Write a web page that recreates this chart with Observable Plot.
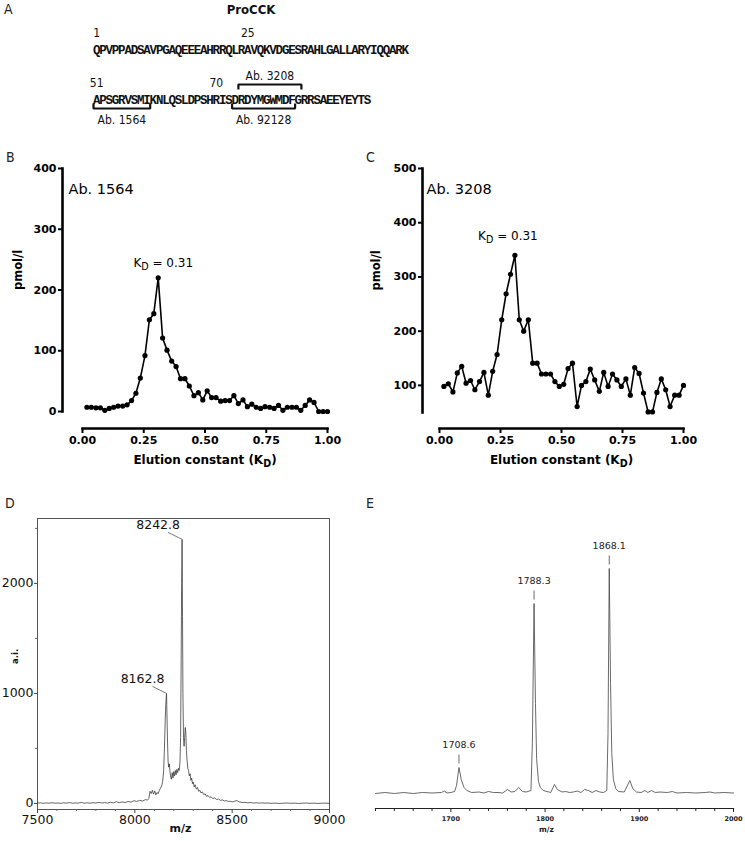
<!DOCTYPE html>
<html>
<head>
<meta charset="utf-8">
<script src="https://cdn.jsdelivr.net/npm/d3@7"></script>
<script src="https://cdn.jsdelivr.net/npm/@observablehq/plot@0.6"></script>
<style>
  html, body { margin: 0; padding: 0; background: #fff; }
  #fig { position: relative; width: 745px; height: 841px; overflow: hidden; background: #fff; }
  .panel { position: absolute; }
  .panel svg { overflow: visible; }
  .letter { position: absolute; font: 14px "Liberation Sans Narrow", "DejaVu Sans Condensed", "Liberation Sans", sans-serif; color: #222; line-height: 1; }
</style>
</head>
<body>
<div id="fig"></div>
<script>
// ---------------- Panel A data ----------------
const seqLine1 = "QPVPPADSAVPGAQEEEAHRRQLRAVQKVDGESRAHLGALLARYIQQARK";
const seqLine2 = "APSGRVSMIKNLQSLDPSHRISDRDYMGWMDFGRRSAEEYEYTS";
const residueNumbers = [1, 25, 51, 70];
const antibodyNames = ["Ab. 3208", "Ab. 1564", "Ab. 92128"];
const antibodyFrom = [74, 51, 73];
const antibodyTo = [83, 59, 82];
const antibodySide = ["above", "below", "below"];

// ---------------- Panels B & C data ----------------
const kd = [0.018, 0.036, 0.055, 0.073, 0.091, 0.109, 0.127, 0.145, 0.164, 0.182,
            0.2, 0.218, 0.236, 0.255, 0.273, 0.291, 0.309, 0.327, 0.345, 0.364,
            0.382, 0.4, 0.418, 0.436, 0.455, 0.473, 0.491, 0.509, 0.527, 0.545,
            0.564, 0.582, 0.6, 0.618, 0.636, 0.655, 0.673, 0.691, 0.709, 0.727,
            0.745, 0.764, 0.782, 0.8, 0.818, 0.836, 0.855, 0.873, 0.891, 0.909,
            0.927, 0.945, 0.964, 0.982, 1.0];
const pmolB = [7, 7, 6, 6, 2, 5, 7, 9, 9, 11,
               18, 30, 55, 92, 151, 161, 220, 121, 101, 83,
               74, 54, 54, 42, 26, 31, 19, 34, 23, 23,
               17, 18, 18, 26, 13, 19, 8, 12, 7, 5,
               8, 7, 5, 10, 2, 7, 7, 7, 2, 10,
               19, 15, 0, 0, 0];
const pmolC = [98, 103, 88, 123, 135, 104, 109, 92, 107, 124,
               82, 126, 157, 221, 269, 305, 340, 221, 200, 221,
               141, 141, 121, 121, 121, 107, 98, 102, 131, 141,
               61, 100, 107, 130, 110, 89, 124, 98, 121, 110,
               98, 112, 82, 133, 122, 86, 51, 51, 87, 112,
               92, 61, 82, 82, 100];
const kdTicks = [0, 0.25, 0.5, 0.75, 1];
const pmolTicksB = [0, 100, 200, 300, 400];
const pmolTicksC = [100, 200, 300, 400, 500];
const antibodyB = "Ab. 1564";
const antibodyC = "Ab. 3208";

// ---------------- Panel D data (MALDI spectrum) ----------------
const mzD = [7500, 7515, 7530, 7545, 7560, 7575, 7590, 7605, 7620, 7635, 7650, 7665, 7680, 7695, 7710, 7725,
  7740, 7755, 7770, 7785, 7800, 7815, 7830, 7845, 7860, 7875, 7890, 7905, 7920, 7935, 7950, 7965, 7980, 7995,
  8010, 8025, 8040, 8055, 8065, 8072, 8078, 8084, 8090, 8096, 8102, 8108, 8114, 8120, 8126, 8132, 8138, 8143,
  8148, 8152, 8156, 8159, 8162.8, 8165, 8168, 8171, 8174, 8177, 8180, 8184, 8188, 8192, 8196, 8200, 8204, 8208,
  8212, 8216, 8220, 8224, 8228, 8232, 8235, 8238, 8240.5, 8242.8, 8245, 8247, 8250, 8253, 8256, 8259, 8262,
  8265, 8268, 8272, 8276, 8280, 8284, 8288, 8292, 8296, 8300, 8305, 8310, 8316, 8322, 8328, 8334, 8340, 8347,
  8354, 8361, 8368, 8376, 8384, 8392, 8400, 8410, 8420, 8430, 8440, 8450, 8460, 8470, 8480, 8490, 8500, 8510,
  8520, 8528, 8536, 8545, 8555, 8565, 8580, 8595, 8610, 8625, 8640, 8655, 8670, 8685, 8700, 8720, 8740, 8760,
  8780, 8800, 8820, 8840, 8860, 8880, 8900, 8920, 8940, 8960, 8980, 9000];
const aiD = [3, 6, 1, 5, 2, 7, 2, 4, 1, 6, 3, 8, 2, 5, 3, 9,
  2, 6, 2, 7, 4, 10, 4, 8, 3, 11, 5, 16, 7, 14, 8, 18, 12, 25,
  18, 28, 22, 35, 30, 45, 110, 90, 120, 85, 115, 78, 100, 88, 120, 140, 160, 200,
  300, 500, 750, 900, 1000, 820, 550, 380, 330, 360, 300, 240, 220, 280, 230, 290, 250, 300,
  260, 310, 280, 320, 300, 380, 600, 1300, 2000, 2400, 1700, 1000, 600, 520, 600, 690, 640,
  480, 400, 320, 300, 250, 270, 210, 230, 180, 195, 150, 170, 130, 145, 110, 120, 95, 105,
  80, 88, 65, 72, 55, 60, 45, 50, 36, 40, 28, 32, 22, 26, 18, 20, 14, 18,
  26, 22, 14, 12, 8, 10, 6, 8, 4, 6, 3, 5, 2, 4, 1, 3, 0, 2,
  4, 1, 3, 0, 2, 4, 1, 3, 0, 2, 3, 1];
const labeledMzD = [8162.8, 8242.8];
const ticksXD = [7500, 8000, 8500, 9000];
const minorTicksXD = [7600, 7700, 7800, 7900, 8100, 8200, 8300, 8400, 8600, 8700, 8800, 8900];
const ticksYD = [0, 1000, 2000];
const minorTicksYD = [500, 1500, 2500];

// ---------------- Panel E data (MALDI spectrum, arbitrary intensity) ----------------
const mzE = [1620, 1630, 1640, 1650, 1660, 1670, 1680, 1690, 1693, 1696, 1700, 1704, 1706, 1708.6, 1711, 1714,
  1717, 1722, 1730, 1735, 1740, 1745, 1750, 1755, 1760, 1764, 1768, 1772, 1776, 1780, 1785, 1786.5, 1788.3,
  1789.8, 1791, 1793, 1795, 1798, 1802, 1806, 1810, 1813, 1818, 1822, 1826, 1830, 1834, 1838, 1842, 1846,
  1850, 1854, 1858, 1862, 1865.5, 1866.8, 1868.1, 1869.5, 1870.8, 1872.5, 1875, 1878, 1884, 1890, 1893,
  1897, 1902, 1906, 1909, 1913, 1917, 1922, 1930, 1935, 1940, 1950, 1960, 1970, 1975, 1980, 1990, 2000];
const intensityE = [0, 1, 0, 1, 0, 1, 0.5, 1, 2.5, 0.5, 1, 2, 8, 26, 14, 6,
  3, 1, 1.5, 0.5, 2, 1, 1, 0.5, 4, 1.5, 2, 6, 2, 1.5, 3, 50, 190,
  90, 35, 12, 6, 3, 2, 1, 9, 4, 1.5, 2, 1, 1.5, 2.5, 1, 4, 3,
  1, 3, 1.5, 1, 3, 60, 225, 110, 40, 14, 5, 2, 1.5, 13, 5,
  1.5, 1, 3, 1, 3, 1, 1.5, 1, 2, 0.5, 1, 0.5, 1, 1.5, 0.5, 1, 0.5];
const labeledMzE = [1708.6, 1788.3, 1868.1];
const ticksXE = [1700, 1800, 1900, 2000];
const minorTicksXE = [1620, 1640, 1660, 1680, 1720, 1740, 1760, 1780, 1820, 1840, 1860, 1880, 1920, 1940, 1960, 1980];

// ---------------- helpers ----------------
const fig = document.getElementById("fig");
function place(node, left, top) {
  const d = document.createElement("div");
  d.className = "panel";
  d.style.left = left + "px";
  d.style.top = top + "px";
  d.append(node);
  fig.append(d);
}
function letter(t, left, top) {
  const d = document.createElement("div");
  d.className = "letter";
  d.textContent = t;
  d.style.left = left + "px";
  d.style.top = top + "px";
  fig.append(d);
}
function subscriptD(root) {
  const NS = "http://www.w3.org/2000/svg";
  root.querySelectorAll("text").forEach((t) => {
    const s = t.textContent;
    const i = s.indexOf("K_D");
    if (i < 0 || t.children.length) return;
    t.textContent = "";
    const a = document.createElementNS(NS, "tspan");
    a.textContent = s.slice(0, i + 1);
    const b = document.createElementNS(NS, "tspan");
    b.textContent = "D";
    b.setAttribute("dy", "3");
    b.setAttribute("font-size", "0.8em");
    const c = document.createElementNS(NS, "tspan");
    c.textContent = s.slice(i + 3);
    c.setAttribute("dy", "-3");
    t.append(a, b, c);
  });
}
const SANS = "'DejaVu Sans', 'Liberation Sans', sans-serif";
const NARROW = "'Liberation Sans Narrow', 'DejaVu Sans Condensed', 'Liberation Sans', sans-serif";

// ---------------- Panel A ----------------
const residues = [];
[seqLine1, seqLine2].forEach((s, r) => Array.from(s).forEach((c, i) => residues.push({c, i, row: r + 1})));
const residueIndex = (n) => (n - 1) % 50;
const residueRow = (n) => (n <= 50 ? 1 : 2);
const numberLabels = residueNumbers.map((n) => ({n, i: residueIndex(n), row: residueRow(n)}));
const brackets = antibodyNames.map((name, k) => ({
  name,
  x1: residueIndex(antibodyFrom[k]),
  x2: residueIndex(antibodyTo[k]) + 1,
  row: residueRow(antibodyFrom[k]),
  side: antibodySide[k]
}));
// vertical layout of brackets, in sequence-row units
const bracketLayout = {above: {bar: -0.3, tip: -0.2, label: -0.46}, below: {bar: 0.18, tip: 0.08, label: 0.41}};
const bracketPath = brackets.flatMap((b) => {
  const L = bracketLayout[b.side];
  return [
    {name: b.name, x: b.x1, y: b.row + L.tip},
    {name: b.name, x: b.x1, y: b.row + L.bar},
    {name: b.name, x: b.x2, y: b.row + L.bar},
    {name: b.name, x: b.x2, y: b.row + L.tip}
  ];
});
const plotA = Plot.plot({
  width: 745, height: 135, margin: 0,
  style: {background: "transparent", color: "#111"},
  x: {domain: [0, 50], range: [93, 408], axis: null},
  y: {domain: [1, 2], range: [49, 99], axis: null},
  marks: [
    Plot.text([{t: "ProCCK", x: seqLine1.length / 2, row: 1}], {x: "x", y: "row", text: "t", dy: -40, fontFamily: NARROW, fontWeight: "bold", fontSize: 13}),
    Plot.text(residues, {x: (d) => d.i + 0.5, y: "row", text: "c", fontFamily: "'Liberation Mono', 'DejaVu Sans Mono', monospace", fontWeight: "bold", fontSize: 12.5}),
    Plot.text(numberLabels, {x: (d) => d.i + 0.5, y: "row", text: (d) => String(d.n), dy: -16, fontFamily: NARROW, fontSize: 12}),
    Plot.line(bracketPath, {x: "x", y: "y", z: "name", stroke: "#111", strokeWidth: 2.2, strokeLinejoin: "miter", strokeLinecap: "butt"}),
    Plot.text(brackets, {x: (b) => (b.x1 + b.x2) / 2, y: (b) => b.row + bracketLayout[b.side].label, text: "name", fontFamily: NARROW, fontSize: 12})
  ]
});
place(plotA, 0, 0);
letter("A", 4, 2);

// ---------------- Panels B & C ----------------
function elutionPlot({values, yDomain, yTicks, antibody, width, marginLeft, marginRight, insetLeft, insetBottom, yLabelDx, abDx, kdDx, kdDy}) {
  const rows = kd.map((k, i) => ({kd: k, pmol: values[i]}));
  const peak = d3.greatest(rows, (d) => d.pmol);
  const peakLabel = [{...peak, label: `K_D = ${peak.kd.toFixed(2)}`}];
  return Plot.plot({
    width, height: 320, marginLeft, marginRight, marginTop: 18, marginBottom: 42,
    style: {background: "transparent", color: "#000", fontFamily: SANS, fontSize: "11px"},
    x: {domain: [0, 1], insetLeft, label: null},
    y: {domain: yDomain, insetBottom, label: null},
    marks: [
      Plot.frame({anchor: "left", insetBottom, strokeWidth: 2.6}),
      Plot.frame({anchor: "bottom", insetLeft, strokeWidth: 2.6}),
      Plot.axisX({ticks: kdTicks, tickFormat: d3.format(".2f"), tickSize: 5, tickPadding: 3, strokeWidth: 2, fontWeight: "bold", fontSize: 11, label: null}),
      Plot.axisY({ticks: yTicks, tickSize: 4, tickPadding: 2, strokeWidth: 2, fontWeight: "bold", fontSize: 11, label: null}),
      Plot.line(rows, {x: "kd", y: "pmol", stroke: "#000", strokeWidth: 1.6}),
      Plot.dot(rows, {x: "kd", y: "pmol", r: 2.6, fill: "#000", stroke: "none"}),
      Plot.text(["Elution constant (K_D)"], {frameAnchor: "bottom", dy: 35, dx: insetLeft / 2, fontWeight: "bold", fontSize: 12}),
      Plot.text(["pmol/l"], {frameAnchor: "left", rotate: -90, dx: yLabelDx, dy: -insetBottom / 2, fontWeight: "bold", fontSize: 11.5}),
      Plot.text([antibody], {frameAnchor: "top-left", dx: abDx, dy: 15, textAnchor: "start", fontSize: 14.5}),
      Plot.text(peakLabel, {x: "kd", y: "pmol", text: "label", dx: kdDx, dy: kdDy, fontSize: 12})
    ]
  });
}
const plotB = elutionPlot({values: pmolB, yDomain: [0, 400], yTicks: pmolTicksB, antibody: antibodyB,
  width: 370, marginLeft: 62, marginRight: 43, insetLeft: 20, insetBottom: 17, yLabelDx: -44, abDx: 6, kdDx: 5, kdDy: -15});
subscriptD(plotB);
place(plotB, 0, 150);
letter("B", 6, 150);

const plotC = elutionPlot({values: pmolC, yDomain: [50, 500], yTicks: pmolTicksC, antibody: antibodyC,
  width: 375, marginLeft: 52, marginRight: 62, insetLeft: 17, insetBottom: 16, yLabelDx: -46, abDx: 4, kdDx: -7, kdDy: -19});
subscriptD(plotC);
place(plotC, 370, 150);
letter("C", 366, 150);

// ---------------- Panel D ----------------
(function () {
  const W = 370, H = 341, mL = 37, mR = 41, mT = 18, mB = 32;
  const xDomain = [7500, 9000], yDomain = [-55, 2590];
  const rows = mzD.map((m, i) => ({mz: m, ai: aiD[i]}));
  const peaks = labeledMzD.map((m) => rows.find((r) => r.mz === m));
  // leader line offset in pixels, converted to data units
  const xk = (W - mL - mR) / (xDomain[1] - xDomain[0]);
  const yk = (H - mT - mB) / (yDomain[1] - yDomain[0]);
  const leaderPx = {dx: -14, dy: -7};
  const leaders = peaks.map((p) => ({x1: p.mz, y1: p.ai, x2: p.mz + leaderPx.dx / xk, y2: p.ai - leaderPx.dy / yk}));
  const plotD = Plot.plot({
    width: W, height: H, marginLeft: mL, marginRight: mR, marginTop: mT, marginBottom: mB,
    style: {background: "transparent", color: "#111", fontFamily: SANS, fontSize: "12px"},
    x: {domain: xDomain, label: null},
    y: {domain: yDomain, label: null},
    marks: [
      Plot.frame({stroke: "#555", strokeWidth: 1}),
      Plot.axisX({ticks: ticksXD, tickFormat: d3.format("d"), tickSize: 4, tickPadding: 2, fontSize: 12.5, stroke: "#444", label: null}),
      Plot.axisX({ticks: minorTicksXD, tickFormat: () => "", tickSize: 2, stroke: "#666", label: null}),
      Plot.axisY({ticks: ticksYD, tickFormat: d3.format("d"), tickSize: 3, tickPadding: 1, fontSize: 12.5, stroke: "#444", label: null}),
      Plot.axisY({ticks: minorTicksYD, tickFormat: () => "", tickSize: 2, stroke: "#666", label: null}),
      Plot.line(rows, {x: "mz", y: "ai", stroke: "#333", strokeWidth: 0.75}),
      Plot.link(leaders, {x1: "x1", y1: "y1", x2: "x2", y2: "y2", stroke: "#555", strokeWidth: 0.8}),
      Plot.text(peaks, {x: "mz", y: "ai", text: (d) => d.mz.toFixed(1), dx: -24, dy: -14, fontSize: 12.5}),
      Plot.text(["m/z"], {frameAnchor: "bottom", dy: 22, dx: -3, fontWeight: "bold", fontSize: 11}),
      Plot.text(["a.i."], {frameAnchor: "left", rotate: -90, dx: -22, fontWeight: "bold", fontSize: 8.5})
    ]
  });
  place(plotD, 0, 500);
  letter("D", 5, 496);
})();

// ---------------- Panel E ----------------
(function () {
  const rows = mzE.map((m, i) => ({mz: m, intensity: intensityE[i]}));
  const peaks = labeledMzE.map((m) => rows.find((r) => r.mz === m));
  const yRange = [293, 68], yDomain = [0, 225];
  const pxPerUnit = (yRange[0] - yRange[1]) / (yDomain[1] - yDomain[0]);
  const markGap = 4, markLen = 9;
  const plotE = Plot.plot({
    width: 375, height: 341, marginLeft: 5, marginRight: 12, marginTop: 20, marginBottom: 33,
    style: {background: "transparent", color: "#222", fontFamily: SANS, fontSize: "10px"},
    x: {domain: [1620, 2000], label: null},
    y: {domain: yDomain, range: yRange, axis: null},
    marks: [
      Plot.frame({anchor: "bottom", stroke: "#222", strokeWidth: 1.2}),
      Plot.axisX({ticks: ticksXE, tickFormat: d3.format("d"), tickSize: 4, tickPadding: 4, fontSize: 6.5, fontWeight: "bold", label: null}),
      Plot.axisX({ticks: minorTicksXE, tickFormat: () => "", tickSize: 3, label: null}),
      Plot.line(rows, {x: "mz", y: "intensity", stroke: "#444", strokeWidth: 0.8}),
      Plot.link(peaks, {x1: "mz", x2: "mz", y1: (d) => d.intensity + markGap / pxPerUnit, y2: (d) => d.intensity + (markGap + markLen) / pxPerUnit, stroke: "#444", strokeWidth: 0.8}),
      Plot.text(peaks, {x: "mz", y: "intensity", text: (d) => d.mz.toFixed(1), dy: -23, fontSize: 9.5}),
      Plot.text(["m/z"], {frameAnchor: "bottom", dy: 23, dx: -8, fontWeight: "bold", fontSize: 7.5})
    ]
  });
  place(plotE, 370, 500);
  letter("E", 366, 496);
})();
</script>
</body>
</html>
